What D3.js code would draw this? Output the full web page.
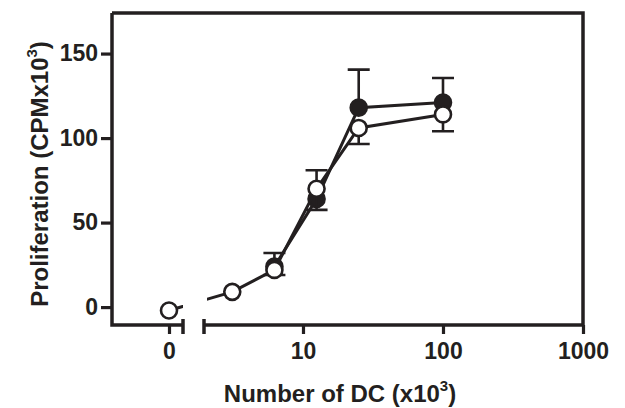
<!DOCTYPE html>
<html>
<head>
<meta charset="utf-8">
<script src="https://cdn.jsdelivr.net/npm/d3@7"></script>
<style>
  body { margin: 0; background: #fff; }
  text { font-family: "Liberation Sans", Arial, sans-serif; font-weight: bold; fill: #231f20; }
</style>
</head>
<body>
<div id="chart"></div>
<script>
// data (DC number x10^3, proliferation CPM x10^3)
var filledDose = [6.25, 12.5, 25, 100];
var filledMean = [24, 64, 118, 121];
var filledErrUp = [8, 17, 22.5, 14.5];

var openDose = [0, 3.125, 6.25, 12.5, 25, 100];
var openMean = [-2, 9, 22, 70, 106, 114];
var openErrDown = [0, 0, 3, 12.5, 9.5, 10];

var yTicks = [0, 50, 100, 150];
var xLogTicks = [10, 100, 1000];
var xZeroTicks = [0];

var svgWidth = 625;
var svgHeight = 408;

var svg = d3.select("#chart")
  .append("svg")
  .attr("width", svgWidth)
  .attr("height", svgHeight);

var ink = "#231f20";

// plot frame
var plotLeft = 112, plotRight = 583, plotTop = 13, plotBottom = 325;
var breakLeft = 183, breakRight = 204;

// scales: linear piece for the zero point, log piece for the rest
var yScale = d3.scaleLinear()
  .domain([-10.6, 174])
  .range([plotBottom, plotTop]);

var xZero = d3.scaleLinear()
  .domain([-1, 1])
  .range([155, 183]);

var xLog = d3.scaleLog()
  .domain([1.963, 1000])
  .range([breakRight, plotRight]);

function xPos(v) {
  return v === 0 ? xZero(v) : xLog(v);
}

// clip paths so the connecting line is interrupted at the axis break
var defs = svg.append("defs");
defs.append("clipPath").attr("id", "clipA")
  .append("rect").attr("x", 0).attr("y", 0).attr("width", breakLeft).attr("height", svgHeight);
defs.append("clipPath").attr("id", "clipB")
  .append("rect").attr("x", breakRight + 3).attr("y", 0).attr("width", svgWidth).attr("height", svgHeight);

// axes
var yAxis = d3.axisLeft(yScale)
  .tickValues(yTicks)
  .tickSize(11)
  .tickSizeOuter(0)
  .tickPadding(3)
  .tickFormat(d3.format("d"));

var yG = svg.append("g")
  .attr("transform", `translate(${plotLeft}, 0)`)
  .call(yAxis);

var xAxisZero = d3.axisBottom(xZero)
  .tickValues(xZeroTicks)
  .tickSize(9)
  .tickSizeOuter(0)
  .tickPadding(9)
  .tickFormat(d3.format("d"));

var xAxisLog = d3.axisBottom(xLog)
  .tickValues(xLogTicks)
  .tickSize(9)
  .tickSizeOuter(0)
  .tickPadding(9)
  .tickFormat(d3.format("d"));

var xG1 = svg.append("g")
  .attr("transform", `translate(0, ${plotBottom})`)
  .call(xAxisZero);

var xG2 = svg.append("g")
  .attr("transform", `translate(0, ${plotBottom})`)
  .call(xAxisLog);

// restyle axis lines, drop default domain paths and draw our own
[yG, xG1, xG2].forEach(function(g) {
  g.select(".domain").remove();
  g.selectAll(".tick line").attr("stroke", ink).attr("stroke-width", 3.2);
  g.selectAll(".tick text")
    .attr("fill", ink)
    .style("font-size", "23px");
});

var frame = svg.append("g")
  .attr("fill", "none")
  .attr("stroke", ink)
  .attr("stroke-width", 3.5);

frame.append("path")
  .attr("d", `M${plotLeft},${plotTop}H${plotRight}V${plotBottom}`);
frame.append("path")
  .attr("d", `M${plotLeft},${plotTop}V${plotBottom}H${breakLeft}`);
frame.append("path")
  .attr("d", `M${breakRight},${plotBottom}H${plotRight}`);
// end caps at the break
frame.append("path")
  .attr("d", `M${breakLeft},${plotBottom - 6}V${plotBottom + 9}M${breakRight},${plotBottom - 6}V${plotBottom + 9}`);

// build point arrays
var filled = filledDose.map(function(d, i) {
  return { dose: d, mean: filledMean[i], err: filledErrUp[i] };
});
var open = openDose.map(function(d, i) {
  return { dose: d, mean: openMean[i], err: openErrDown[i] };
});

var line = d3.line()
  .x(d => xPos(d.dose))
  .y(d => yScale(d.mean));

var capHalf = 11;

function drawSeries(data, dir, fillColor) {
  var g = svg.append("g");

  // error bars (one direction each)
  g.selectAll(".err")
    .data(data.filter(d => d.err > 0))
    .enter()
    .append("path")
    .attr("fill", "none")
    .attr("stroke", ink)
    .attr("stroke-width", 2.6)
    .attr("d", function(d) {
      var x = xPos(d.dose);
      var y0 = yScale(d.mean);
      var y1 = yScale(d.mean + dir * d.err);
      return `M${x},${y0}V${y1}M${x - capHalf},${y1}H${x + capHalf}`;
    });

  // connecting line, broken at the axis break
  ["clipA", "clipB"].forEach(function(c) {
    g.append("path")
      .datum(data)
      .attr("clip-path", `url(#${c})`)
      .attr("d", line)
      .attr("fill", "none")
      .attr("stroke", ink)
      .attr("stroke-width", 3);
  });

  // markers
  g.selectAll("circle")
    .data(data)
    .enter()
    .append("circle")
    .attr("cx", d => xPos(d.dose))
    .attr("cy", d => yScale(d.mean))
    .attr("r", 8)
    .attr("fill", fillColor)
    .attr("stroke", ink)
    .attr("stroke-width", 2.6);
}

drawSeries(filled, 1, ink);
drawSeries(open, -1, "#fff");

// axis titles
var xTitle = svg.append("text")
  .attr("x", 340)
  .attr("y", 402)
  .attr("text-anchor", "middle")
  .style("font-size", "24px");
xTitle.append("tspan").text("Number of DC (x10");
xTitle.append("tspan").attr("dy", -11).style("font-size", "15px").text("3");
xTitle.append("tspan").attr("dy", 11).text(")");

var yTitle = svg.append("text")
  .attr("transform", "translate(48, 174) rotate(-90)")
  .attr("text-anchor", "middle")
  .style("font-size", "24px");
yTitle.append("tspan").text("Proliferation (CPMx10");
yTitle.append("tspan").attr("dy", -11).style("font-size", "15px").text("3");
yTitle.append("tspan").attr("dy", 11).text(")");
</script>
</body>
</html>
